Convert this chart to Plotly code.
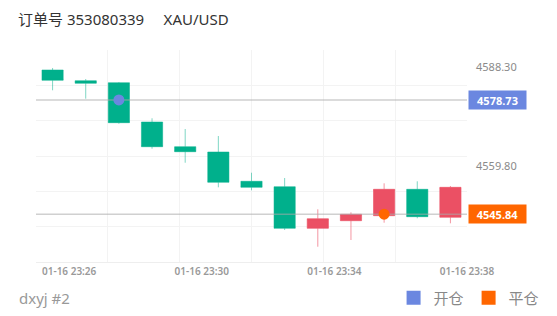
import plotly.graph_objects as go

# ---- data ----
times = ["2026-01-16 23:25:30", "2026-01-16 23:26:30", "2026-01-16 23:27:30", "2026-01-16 23:28:30",
         "2026-01-16 23:29:30", "2026-01-16 23:30:30", "2026-01-16 23:31:30", "2026-01-16 23:32:30",
         "2026-01-16 23:33:30", "2026-01-16 23:34:30", "2026-01-16 23:35:30", "2026-01-16 23:36:30",
         "2026-01-16 23:37:30"]
opens  = [4587.35, 4584.27, 4583.69, 4572.38, 4565.27, 4563.74, 4555.31, 4553.75, 4541.78, 4543.97, 4545.41, 4553.01, 4544.95]
highs  = [4587.93, 4584.76, 4583.90, 4573.45, 4570.36, 4568.35, 4557.78, 4556.26, 4547.25, 4546.38, 4554.73, 4555.31, 4553.96]
lows   = [4581.51, 4579.09, 4571.89, 4564.69, 4560.66, 4553.58, 4552.72, 4541.29, 4536.48, 4538.41, 4543.39, 4544.66, 4543.22]
closes = [4584.39, 4583.52, 4572.18, 4565.27, 4563.83, 4555.02, 4553.58, 4541.78, 4544.54, 4545.81, 4553.01, 4545.12, 4553.58]

open_time = "2026-01-16 23:27:30"
open_price = 4578.73
close_time = "2026-01-16 23:35:30"
close_price = 4545.84

y_tick_vals = [4588.30, 4559.80]
x_tick_vals = ["2026-01-16 23:26", "2026-01-16 23:30", "2026-01-16 23:34", "2026-01-16 23:38"]
x_range = ["2026-01-16 23:25", "2026-01-16 23:38"]
y_range = [4532.08, 4593.11]

title_text = "订单号 353080339&nbsp;&nbsp;&nbsp;&nbsp;&nbsp;XAU/USD"
footer_text = "dxyj #2"
legend_names = ["开仓", "平仓"]

GREEN = "#00b08c"
RED = "#eb5064"
BLUE = "#6b87e0"
ORANGE = "#ff6600"
FONT = "Noto Sans, Noto Sans CJK SC, sans-serif"

fig = go.Figure()

# helper trace for equal-division background grid
fig.add_trace(go.Scatter(x=[0, 6], y=[0, 6], xaxis="x2", yaxis="y2", mode="markers",
                         marker=dict(opacity=0), hoverinfo="skip", showlegend=False))

fig.add_trace(go.Candlestick(
    x=times, open=opens, high=highs, low=lows, close=closes,
    increasing=dict(fillcolor=RED, line=dict(color="rgba(235,80,100,0.6)", width=1)),
    decreasing=dict(fillcolor=GREEN, line=dict(color="rgba(0,176,140,0.5)", width=1)),
    showlegend=False, hoverinfo="skip",
))

# open / close price reference lines (drawn above candles, below the dots)
for val in (open_price, close_price):
    fig.add_trace(go.Scatter(x=x_range, y=[val, val], mode="lines",
                             line=dict(color="rgba(170,170,170,0.55)", width=1.5),
                             hoverinfo="skip", showlegend=False))

fig.add_trace(go.Scatter(x=[open_time], y=[open_price], mode="markers",
                         marker=dict(color=BLUE, size=11), showlegend=False))
fig.add_trace(go.Scatter(x=[close_time], y=[close_price], mode="markers",
                         marker=dict(color=ORANGE, size=11), showlegend=False))

# legend-only entries
fig.add_trace(go.Scatter(x=[None], y=[None], mode="markers", name=legend_names[0],
                         marker=dict(color=BLUE, size=14, symbol="square")))
fig.add_trace(go.Scatter(x=[None], y=[None], mode="markers", name=legend_names[1],
                         marker=dict(color=ORANGE, size=14, symbol="square")))

for val, col in ((open_price, BLUE), (close_price, ORANGE)):
    fig.add_annotation(xref="paper", x=1.002, yref="y", y=val, text=f"<b>{val:.2f}</b>",
                       showarrow=False, xanchor="left", yanchor="middle",
                       bgcolor=col, font=dict(color="white", size=11, family=FONT),
                       borderpad=2, width=53, height=14)

fig.add_annotation(xref="paper", yref="paper", x=-0.044, y=-0.17, text=footer_text,
                   showarrow=False, xanchor="left", yanchor="middle",
                   font=dict(color="#999999", size=15, family=FONT))

fig.update_layout(
    width=557, height=316,
    margin=dict(l=36, r=90, t=50, b=54, autoexpand=False),
    paper_bgcolor="white", plot_bgcolor="white",
    font=dict(family=FONT),
    boxgap=0.36, boxgroupgap=0,
    title=dict(text=title_text, x=18 / 557, xanchor="left", y=1 - 20 / 316, yanchor="middle",
               font=dict(size=15, color="#333333", family=FONT)),
    xaxis=dict(type="date", range=x_range, rangeslider=dict(visible=False),
               tickvals=x_tick_vals, tickformat="%m-%d %H:%M",
               tickfont=dict(size=10, color="#999999", family=FONT, weight=600),
               showgrid=False, zeroline=False, showline=True, linecolor="#eeeeee", ticks=""),
    yaxis=dict(range=y_range, side="right", tickvals=y_tick_vals,
               ticktext=[f"{v:.2f}" for v in y_tick_vals],
               tickfont=dict(size=11, color="#8a8a8a", family=FONT),
               showgrid=False, zeroline=False, ticks="", ticklabelstandoff=8),
    xaxis2=dict(overlaying="x", range=[0, 6], dtick=1, showticklabels=False, showgrid=True,
                gridcolor="#f3f3f3", zeroline=False, ticks=""),
    yaxis2=dict(overlaying="y", range=[0, 6], dtick=1, showticklabels=False, showgrid=True,
                gridcolor="#f3f3f3", zeroline=False, ticks=""),
    showlegend=True,
    legend=dict(orientation="h", x=1.18, xanchor="right", y=-0.17, yanchor="middle",
                font=dict(size=15, color="#888888", family=FONT), itemwidth=30,
                bgcolor="rgba(0,0,0,0)"),
)

fig.write_html("out.html")
